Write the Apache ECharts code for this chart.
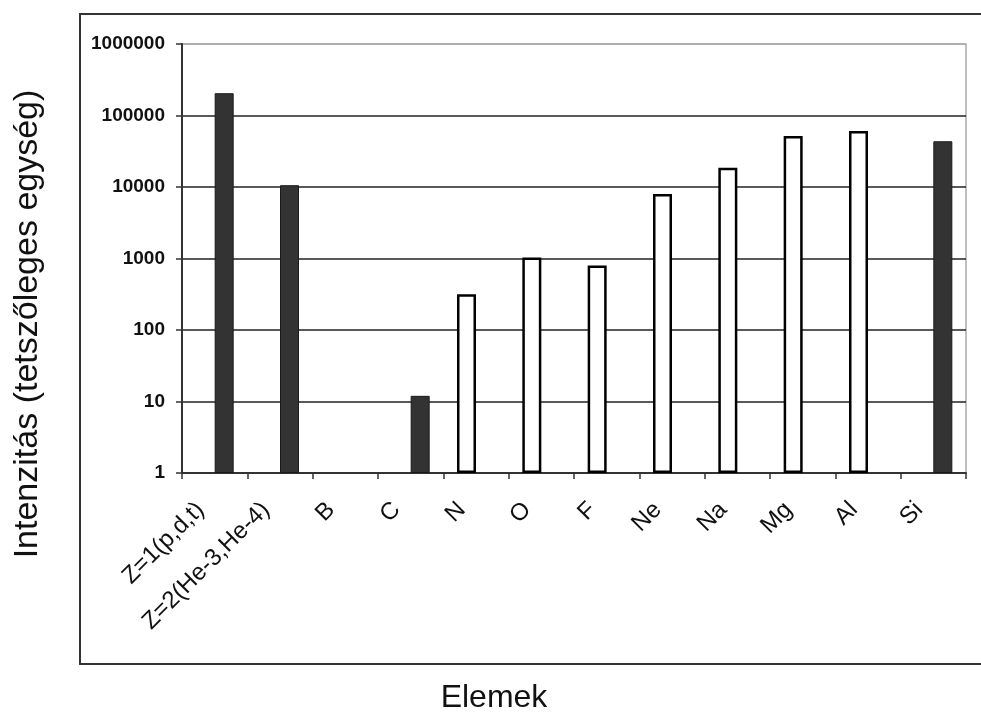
<!DOCTYPE html>
<html>
<head>
<meta charset="utf-8">
<script src="https://cdn.jsdelivr.net/npm/echarts@6/dist/echarts.min.js"></script>
<style>
  html, body { margin: 0; padding: 0; background: #fff; }
  #main { width: 981px; height: 712px; }
</style>
</head>
<body>
<div id="main"></div>
<script>
// elemek (kategóriák)
var categories = ['Z=1(p,d,t)', 'Z=2(He-3,He-4)', 'B', 'C', 'N', 'O', 'F', 'Ne', 'Na', 'Mg', 'Al', 'Si'];
// fehér oszlopok
var whiteValues = ['-', '-', '-', '-', 315, 1030, 800, 8000, 18600, 51700, 60700, '-'];
// sötét oszlopok
var darkValues = [205000, 10600, '-', 12, '-', '-', '-', '-', '-', '-', '-', 43600];
var yTicks = [1, 10, 100, 1000, 10000, 100000, 1000000];

var chart = echarts.init(document.getElementById('main'));
var font = '"Liberation Sans", Arial, sans-serif';

var option = {
    backgroundColor: '#fff',
    animation: false,
    grid: { left: 182, right: 15, top: 44, bottom: 239, show: true, borderColor: '#aaa', borderWidth: 1.5 },
    graphic: [
        {   // külső keret
            type: 'rect',
            shape: { x: 80, y: 14, width: 1000, height: 650 },
            style: { fill: 'none', stroke: '#333', lineWidth: 2 },
            z: -1
        },
        {
            type: 'text',
            x: 28, y: 324, rotation: Math.PI / 2,
            style: { text: 'Intenzitás (tetszőleges egység)', font: '34px ' + font, fill: '#111', textAlign: 'center', textVerticalAlign: 'middle' }
        },
        {
            type: 'text',
            x: 494, y: 698,
            style: { text: 'Elemek', font: '32px ' + font, fill: '#111', textAlign: 'center', textVerticalAlign: 'middle' }
        }
    ],
    xAxis: {
        type: 'category',
        data: categories,
        axisLine: { lineStyle: { color: '#333', width: 2 } },
        axisTick: { show: true, length: 6, lineStyle: { color: '#333', width: 1.5 } },
        axisLabel: {
            rotate: 45, interval: 0, margin: 19,
            padding: [0, 20, 0, 0],
            fontFamily: font, fontSize: 24, color: '#111'
        }
    },
    yAxis: {
        type: 'log',
        min: 1, max: 1000000, logBase: 10,
        axisLine: { show: true, lineStyle: { color: '#333', width: 2 } },
        axisTick: { show: true, length: 6, lineStyle: { color: '#333', width: 1.5 } },
        axisLabel: {
            margin: 17, fontFamily: font, fontSize: 19, fontWeight: 'bold', color: '#111',
            formatter: function (v) { return yTicks.indexOf(v) >= 0 ? String(v) : ''; }
        },
        splitLine: { show: true, lineStyle: { color: ['#222', '#222', '#222', '#222', '#222', '#222', '#aaa'], width: 1.5 } }
    },
    series: [
        {
            type: 'bar', data: whiteValues, barWidth: 19, barGap: '0%',
            itemStyle: { color: '#fff', borderColor: '#000', borderWidth: 2.5 }
        },
        {
            type: 'bar', data: darkValues, barWidth: 19, barGap: '0%',
            itemStyle: { color: '#333', borderColor: '#1a1a1a', borderWidth: 1 }
        }
    ]
};

chart.setOption(option);
</script>
</body>
</html>
